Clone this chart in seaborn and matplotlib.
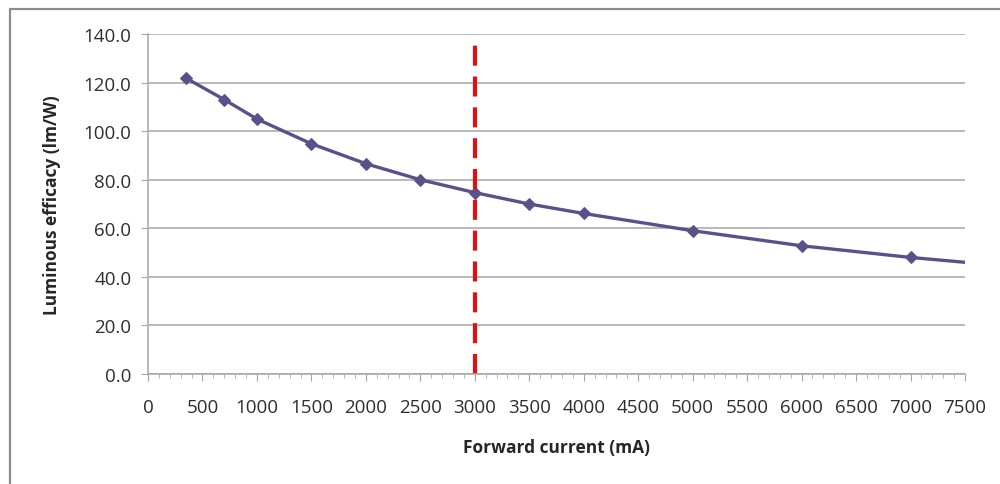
import numpy as np
import pandas as pd
import matplotlib
matplotlib.use("Agg")
import matplotlib.pyplot as plt
import seaborn as sns
from matplotlib.lines import Line2D
from matplotlib.ticker import MultipleLocator

# forward current (mA) vs luminous efficacy (lm/W)
current_ma = [350, 700, 1000, 1500, 2000, 2500, 3000, 3500, 4000, 5000, 6000, 7000, 8000]
efficacy = [121.8, 113.0, 105.0, 94.8, 86.6, 80.0, 74.7, 70.0, 66.1, 59.0, 52.8, 48.0, 44.0]
marker_count = 12  # last point lies beyond the visible range
rated_current = 3000

df = pd.DataFrame({"current": current_ma, "efficacy": efficacy})

sns.set_style("white")
plt.rcParams["font.family"] = ["Open Sans", "DejaVu Sans"]

fig = plt.figure(figsize=(10, 4.85), dpi=100)
ax = fig.add_axes([0.148, 0.2268, 0.817, 0.701])

line_col = "#5d4f8a"
sns.lineplot(
    data=df, x="current", y="efficacy", ax=ax,
    color=line_col, lw=2.4, marker="D", markersize=6.5,
    markeredgecolor=line_col, markevery=list(range(marker_count)),
)
ax.axvline(rated_current, color="#e01010", lw=3, ls=(0, (4.8, 2.6)), ymax=0.975)

ax.set_xlim(0, 7500)
ax.set_ylim(0, 140)
ax.xaxis.set_major_locator(MultipleLocator(500))
ax.xaxis.set_minor_locator(MultipleLocator(100))
ax.yaxis.set_major_locator(MultipleLocator(20))
ax.set_yticklabels([f"{v:.1f}" for v in ax.get_yticks()])

ax.grid(axis="y", color="#a6a6a6", lw=1.1)
ax.grid(axis="x", visible=False)
for s in ["top", "right"]:
    ax.spines[s].set_visible(False)
for s in ["left", "bottom"]:
    ax.spines[s].set_color("#a6a6a6")
    ax.spines[s].set_linewidth(1.1)

ax.tick_params(axis="y", which="major", left=True, length=5, color="#a6a6a6",
               labelsize=13.5, labelcolor="#2e2e2e", pad=7)
ax.tick_params(axis="x", which="major", bottom=True, length=5, color="#a6a6a6",
               labelsize=13.5, labelcolor="#2e2e2e", pad=12)
ax.tick_params(axis="x", which="minor", bottom=True, length=3, color="#a6a6a6")

ax.set_xlabel("Forward current (mA)", fontsize=12.5, fontweight="bold", labelpad=16)
ax.set_ylabel("Luminous efficacy (lm/W)", fontsize=12.5, fontweight="bold", labelpad=16)

# chart area frame (top and left edges visible)
fig.add_artist(Line2D([0.01, 1.0], [1 - 10 / 485, 1 - 10 / 485], color="#8c8c8c", lw=1.6,
                      transform=fig.transFigure))
fig.add_artist(Line2D([0.01, 0.01], [0.0, 1 - 10 / 485], color="#8c8c8c", lw=1.6,
                      transform=fig.transFigure))

fig.savefig("out.png", dpi=100, facecolor="white")
